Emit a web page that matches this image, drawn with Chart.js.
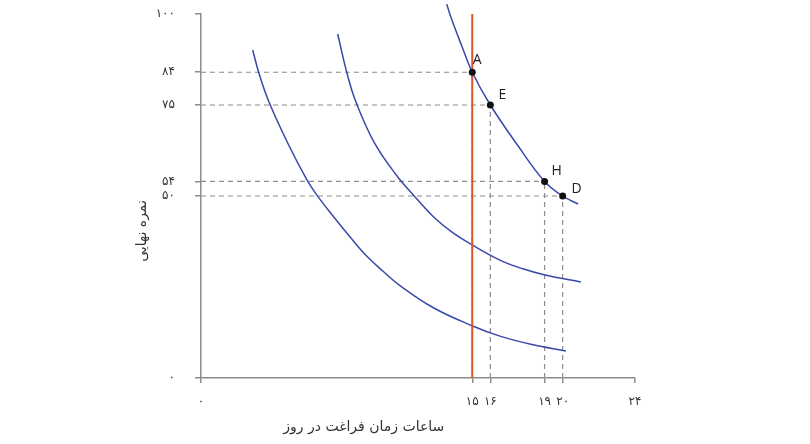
<!DOCTYPE html>
<html><head><meta charset="utf-8">
<script src="https://cdn.jsdelivr.net/npm/chart.js@4"></script>
<style>html,body{margin:0;padding:0;background:#fff}canvas{display:block}</style>
</head><body>
<canvas id="c" width="810" height="444"></canvas>
<script>
const xTicks=[0,15,16,19,20,24];
const yTicks=[0,50,54,75,84,100];
const xTitle='ساعات زمان فراغت در روز';
const yTitle='نمره نهایی';
const pointNames=['A','E','H','D'];
const pointX=[15,16,19,20];
const pointY=[84,75,54,50];
const budgetX=[15,15];
const budgetY=[0,100];
const curve1X=[2.86,3.2,3.76,4.8,5.85,6.4,7.3,8.2,9.16,10.1,11.0,12.85,15.02,16.53,18.3,20.18];
const curve1Y=[90.1,83.8,75.8,64.5,54.5,50.3,44.5,39.0,33.5,29.2,25.4,19.3,14.3,11.5,9.2,7.4];
const curve2X=[7.56,8.07,8.57,9.6,10.84,11.74,12.85,13.9,15.02,16.53,17.8,19.02,21.01];
const curve2Y=[94.5,83.8,75.8,64.5,55.5,50.3,44.3,40.0,36.5,32.4,30.0,28.3,26.4];
const curve3X=[13.59,13.87,14.4,15,16,17.5,19,20,20.85];
const curve3Y=[102.7,98.4,91.5,84,75,64,54,50,47.8];

const fa=v=>String(v).replace(/\d/g,d=>'۰۱۲۳۴۵۶۷۸۹'[d]);
const zip=(xs,ys)=>xs.map((x,i)=>({x,y:ys[i]}));
const blue='rgb(58,72,170)', grey='#8c8c8c';

const datasets=[];
datasets.push({data:zip(pointX,pointY),showLine:false,pointRadius:3.5,pointBackgroundColor:'#111',pointBorderColor:'#111',pointBorderWidth:0});
datasets.push({data:zip(budgetX,budgetY),showLine:true,borderColor:'#e0532a',borderWidth:2,pointRadius:0});
[[curve3X,curve3Y],[curve2X,curve2Y],[curve1X,curve1Y]].forEach(([xs,ys])=>{
  datasets.push({data:zip(xs,ys),showLine:true,borderColor:blue,borderWidth:1.5,pointRadius:0,tension:0.4,clip:false});
});
pointX.forEach((px,i)=>{
  datasets.push({data:[{x:0,y:pointY[i]},{x:px,y:pointY[i]}],showLine:true,borderColor:grey,borderWidth:1.2,borderDash:[5,4],pointRadius:0});
  datasets.push({data:[{x:px,y:0},{x:px,y:pointY[i]}],showLine:true,borderColor:grey,borderWidth:1.2,borderDash:[5,4],pointRadius:0});
});

const labelPlugin={id:'labels',afterDatasetsDraw(chart){
  const {ctx,scales:{x,y}}=chart;
  ctx.save();
  ctx.font='14px "Open Sans", sans-serif';ctx.fillStyle='#222';ctx.textAlign='center';ctx.textBaseline='middle';
  const off=[[5,-12],[12,-10],[12,-10],[14,-7]];
  pointNames.forEach((n,i)=>ctx.fillText(n,x.getPixelForValue(pointX[i])+off[i][0],y.getPixelForValue(pointY[i])+off[i][1]));
  ctx.font='14px "DejaVu Sans", sans-serif';ctx.fillStyle='#333';
  ctx.fillText(xTitle,x.getPixelForValue(9),427);
  ctx.translate(142,231);ctx.rotate(-Math.PI/2);
  ctx.fillText(yTitle,0,0);
  ctx.restore();
}};

new Chart(document.getElementById('c'),{
  type:'scatter',
  data:{datasets},
  plugins:[labelPlugin],
  options:{
    responsive:false,animation:false,
    layout:{padding:{top:14,right:175,left:0,bottom:0}},
    plugins:{legend:{display:false},tooltip:{enabled:false}},
    scales:{
      x:{type:'linear',min:0,max:24,
        afterBuildTicks:s=>{s.ticks=xTicks.map(v=>({value:v}));},
        afterFit:s=>{s.height=66;s.paddingLeft=0;s.paddingRight=0;},
        grid:{drawOnChartArea:false,drawTicks:true,tickLength:5,color:grey,lineWidth:1.5},
        border:{color:grey,width:1.5},
        ticks:{callback:v=>fa(v),padding:12,color:'#333',font:{family:'DejaVu Sans',size:12},maxRotation:0,autoSkip:false}
      },
      y:{type:'linear',min:0,max:100,
        afterBuildTicks:s=>{s.ticks=yTicks.map(v=>({value:v}));},
        afterFit:s=>{s.width=201;s.paddingTop=0;s.paddingBottom=0;},
        grid:{drawOnChartArea:false,drawTicks:true,tickLength:6,color:grey,lineWidth:1.5},
        border:{color:grey,width:1.5},
        ticks:{callback:v=>fa(v),padding:20,color:'#333',font:{family:'DejaVu Sans',size:12},autoSkip:false}
      }
    }
  }
});
</script>
</body></html>
